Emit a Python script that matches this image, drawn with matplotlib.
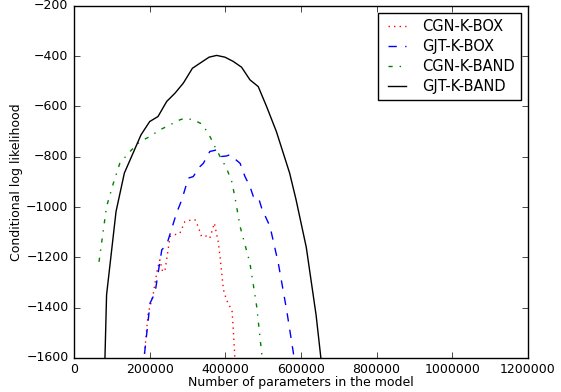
import numpy as np
import matplotlib
matplotlib.use('agg')
import matplotlib.pyplot as plt

# GJT-K-BAND (solid black)
gjt_band_x = [80000, 86000, 111000, 133000, 177000, 200000, 222000, 245000, 267000, 289000,
              313000, 333000, 357000, 377000, 399000, 421000, 443000, 465000, 487000, 509000,
              535000, 570000, 587000, 614000, 640000, 660000]
gjt_band_y = [-1700, -1349, -1018, -865, -713, -660, -640, -580, -547, -507,
              -448, -428, -404, -397, -404, -421, -444, -494, -521, -600,
              -700, -865, -971, -1160, -1430, -1700]

# CGN-K-BAND (green dash-dot)
cgn_band_x = [66000, 86000, 104000, 121000, 148000, 174000, 200000, 227000, 254000, 280000,
              293000, 315000, 337000, 355000, 372000, 386000, 403000, 417000, 425000, 439000,
              465000, 483000, 497000, 500000]
cgn_band_y = [-1218, -998, -905, -826, -779, -740, -720, -693, -673, -653,
              -647, -653, -669, -706, -759, -799, -845, -899, -958, -1077,
              -1223, -1396, -1594, -1650]

# GJT-K-BOX (blue dashed)
gjt_box_x = [184000, 186000, 201000, 214000, 232000, 245000, 271000, 285000, 302000, 315000,
             333000, 342000, 359000, 377000, 390000, 403000, 412000, 439000, 452000, 465000,
             474000, 487000, 496000, 500000, 518000, 540000, 562000, 580000, 583000]
gjt_box_y = [-1650, -1588, -1382, -1342, -1170, -1150, -1024, -971, -885, -879,
             -839, -826, -779, -773, -799, -797, -792, -826, -879, -918,
             -958, -960, -1004, -1018, -1077, -1223, -1409, -1581, -1650]

# CGN-K-BOX (red dotted)
cgn_box_x = [185000, 186000, 196000, 209000, 220000, 227000, 234000, 240000, 254000, 267000,
             280000, 293000, 311000, 320000, 328000, 337000, 351000, 359000, 371000, 381000,
             386000, 395000, 403000, 412000, 418000, 421000, 425000, 426000]
cgn_box_y = [-1650, -1588, -1422, -1349, -1250, -1210, -1256, -1256, -1117, -1110,
             -1104, -1058, -1051, -1051, -1077, -1117, -1115, -1124, -1064, -1137,
             -1197, -1329, -1369, -1396, -1416, -1488, -1594, -1650]

plt.style.use('classic')
plt.rcParams['font.size'] = 9

fig = plt.figure(figsize=(5.61, 3.92), dpi=100, facecolor='white')
ax = fig.add_axes([0.132, 0.087, 0.809, 0.898])

ax.plot(cgn_box_x, cgn_box_y, 'r:', label='CGN-K-BOX')
ax.plot(gjt_box_x, gjt_box_y, 'b--', label='GJT-K-BOX')
ax.plot(cgn_band_x, cgn_band_y, 'g-.', label='CGN-K-BAND')
ax.plot(gjt_band_x, gjt_band_y, 'k-', label='GJT-K-BAND')

ax.set_xlim(0, 1200000)
ax.set_ylim(-1600, -200)
ax.set_xticks(np.arange(0, 1200001, 200000))
ax.set_yticks(np.arange(-1600, -199, 200))
ax.ticklabel_format(style='plain', useOffset=False)
ax.set_xlabel('Number of parameters in the model', labelpad=0)
ax.set_ylabel('Conditional log likelihood', labelpad=2)

ax.legend(loc='upper right', fontsize=10.5, numpoints=2, labelspacing=0.35,
          borderpad=0.4, handlelength=1.8)

fig.savefig('out.png', dpi=100, facecolor='white')
